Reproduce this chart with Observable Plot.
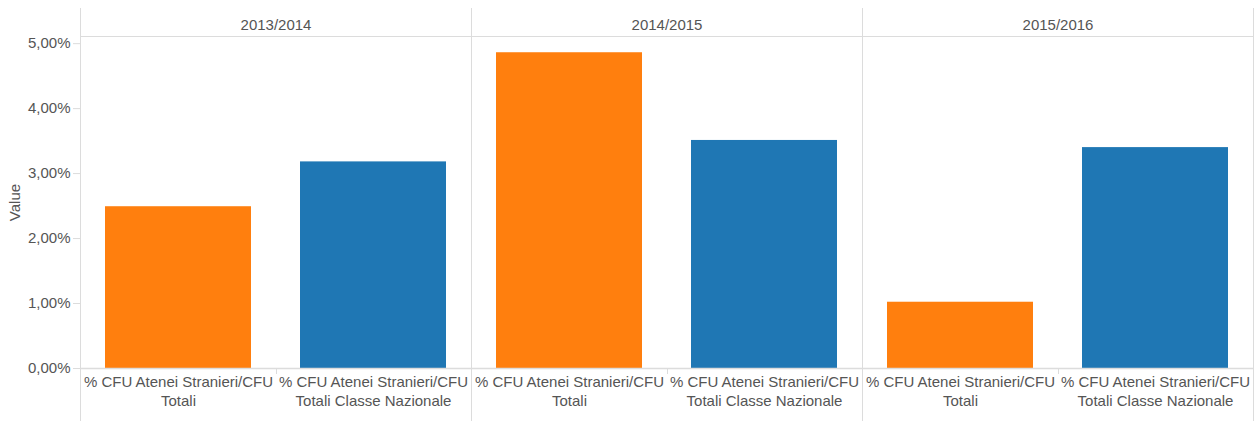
<!DOCTYPE html>
<html>
<head>
<meta charset="utf-8">
<script src="https://cdn.jsdelivr.net/npm/d3@7"></script>
<script src="https://cdn.jsdelivr.net/npm/@observablehq/plot@0.6"></script>
<style>
  html, body { margin: 0; padding: 0; background: #fff; }
  #chart { width: 1260px; height: 421px; }
</style>
</head>
<body>
<div id="chart"></div>
<script>
const years = ["2013/2014", "2014/2015", "2015/2016"];
const seriesNames = [
  "% CFU Atenei Stranieri/CFU Totali",
  "% CFU Atenei Stranieri/CFU Totali Classe Nazionale"
];
const seriesLabels = [
  "% CFU Atenei Stranieri/CFU\nTotali",
  "% CFU Atenei Stranieri/CFU\nTotali Classe Nazionale"
];
const valuesTotali = [2.49, 4.86, 1.02];
const valuesNazionale = [3.18, 3.51, 3.40];
const colors = ["#ff7f0e", "#1f77b4"];
const yTicks = [0, 1, 2, 3, 4, 5];
const yTitle = "Value";

const data = [];
years.forEach((y, i) => {
  data.push({year: y, series: seriesNames[0], value: valuesTotali[i]});
  data.push({year: y, series: seriesNames[1], value: valuesNazionale[i]});
});
const labelOf = Object.fromEntries(seriesNames.map((s, i) => [s, seriesLabels[i]]));
const fmt = d => d.toFixed(2).replace(".", ",") + "%";
const grid = "#dcdcdc";
const textColor = "#555";

const chart = Plot.plot({
  width: 1260,
  height: 421,
  marginLeft: 79,
  marginRight: 6,
  marginTop: 36,
  marginBottom: 53,
  style: {fontFamily: "'Liberation Sans', Arial, sans-serif", fontSize: "15px", color: textColor, background: "#fff"},
  fx: {domain: years, padding: 0, axis: null},
  x: {domain: seriesNames, paddingInner: 0.25, paddingOuter: 0.125, axis: null},
  y: {domain: [0, 5.11], axis: null},
  color: {domain: seriesNames, range: colors},
  marks: [
    Plot.frame({anchor: "left", stroke: grid, strokeOpacity: 1, insetTop: -28, insetBottom: -53}),
    Plot.frame({anchor: "right", stroke: grid, strokeOpacity: 1, insetTop: -28, insetBottom: -53}),
    Plot.frame({anchor: "top", stroke: grid, strokeOpacity: 1}),
    Plot.barY(data, {fx: "year", x: "series", y: "value", fill: "series"}),
    Plot.ruleY([0], {stroke: grid, strokeWidth: 1.5}),
    Plot.axisY({
      ticks: yTicks, tickFormat: fmt, tickSize: 7, tickPadding: 3,
      stroke: grid, fill: textColor, fontSize: 15, label: null
    }),
    Plot.text([yTitle], {
      fx: () => years[0], text: d => d, frameAnchor: "left", textAnchor: "middle",
      dx: -65, rotate: -90, fill: textColor, fontSize: 15
    }),
    Plot.ruleX(data.filter(d => d.series === seriesNames[0]), {
      fx: "year", x: "series", dx: 98, stroke: grid, insetTop: 332, insetBottom: -6
    }),
    Plot.text(data, {
      fx: "year", x: "series", text: d => labelOf[d.series],
      frameAnchor: "bottom", lineAnchor: "top", dy: 5, lineHeight: 1.25,
      fill: textColor, fontSize: 15
    }),
    Plot.text(years, {
      fx: d => d, text: d => d, frameAnchor: "top", dy: -17,
      fill: textColor, fontSize: 15
    })
  ]
});
document.getElementById("chart").appendChild(chart);
</script>
</body>
</html>
